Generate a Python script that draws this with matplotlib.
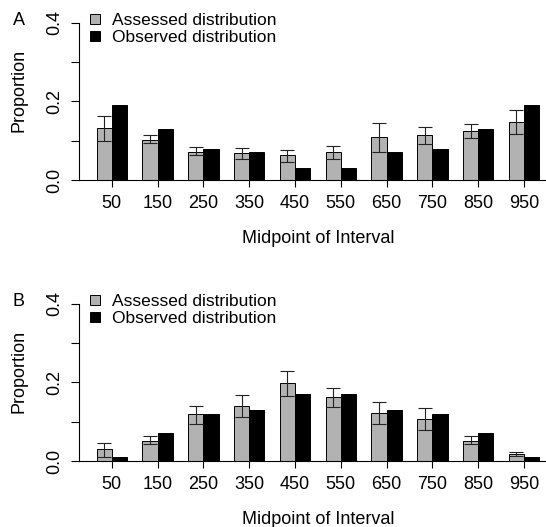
import numpy as np
import matplotlib
matplotlib.use("Agg")
from matplotlib import pyplot as plt
from matplotlib.lines import Line2D

plt.rcParams["font.family"] = ["Liberation Sans", "DejaVu Sans"]

# interval midpoints
mids = [50, 150, 250, 350, 450, 550, 650, 750, 850, 950]

# panel A
a_assessed = [0.133, 0.103, 0.072, 0.068, 0.063, 0.070, 0.110, 0.114, 0.125, 0.147]
a_lo = [0.099, 0.093, 0.063, 0.054, 0.047, 0.053, 0.072, 0.091, 0.107, 0.116]
a_hi = [0.164, 0.114, 0.083, 0.082, 0.076, 0.087, 0.146, 0.136, 0.143, 0.177]
a_observed = [0.19, 0.13, 0.08, 0.07, 0.03, 0.03, 0.07, 0.08, 0.13, 0.19]

# panel B
b_assessed = [0.030, 0.052, 0.119, 0.141, 0.199, 0.162, 0.122, 0.107, 0.052, 0.019]
b_lo = [0.011, 0.044, 0.095, 0.112, 0.166, 0.138, 0.095, 0.079, 0.043, 0.014]
b_hi = [0.047, 0.064, 0.141, 0.169, 0.229, 0.186, 0.149, 0.136, 0.063, 0.024]
b_observed = [0.01, 0.07, 0.12, 0.13, 0.17, 0.17, 0.13, 0.12, 0.07, 0.01]

legend_labels = ["Assessed distribution", "Observed distribution"]
gray = "#b2b2b2"
W, H = 546, 527

fig = plt.figure(figsize=(W / 100, H / 100), dpi=100)


def panel(bottom_px, letter, assessed, lo, hi, observed):
    ax = fig.add_axes([78.8 / W, (H - bottom_px) / H, 478.2 / W, 169.8 / H])
    grp = np.arange(len(mids))
    gx = 3 * grp + 1.5
    bx = 3 * grp + 2.5
    assessed = np.array(assessed)
    yerr = [assessed - np.array(lo), np.array(hi) - assessed]
    ax.bar(gx, assessed, width=1, color=gray, edgecolor="black", linewidth=0.7, zorder=2)
    ax.bar(bx, observed, width=1, color="black", edgecolor="black", linewidth=0.7, zorder=2)
    ax.errorbar(gx, assessed, yerr=yerr, fmt="none", ecolor="#222222",
                elinewidth=0.8, capsize=5.3, capthick=0.8, zorder=3)
    ax.set_xlim(-0.16, 31.16)
    ax.set_ylim(-0.016, 0.416)
    for s in ["top", "right"]:
        ax.spines[s].set_visible(False)
    ax.spines["left"].set_bounds(0, 0.4)
    ax.spines["bottom"].set_position(("data", 0))
    for s in ["left", "bottom"]:
        ax.spines[s].set_linewidth(0.8)
    ax.set_xticks(3 * grp + 2)
    ax.set_xticklabels([str(m) for m in mids])
    ax.set_yticks([0, 0.1, 0.2, 0.3, 0.4])
    ax.set_yticklabels(["0.0", "", "0.2", "", "0.4"], rotation=90, va="center")
    ax.tick_params(axis="x", length=5, width=0.8, pad=6, labelsize=13)
    ax.tick_params(axis="y", length=5.5, width=0.8, pad=6, labelsize=13)
    ax.set_xlabel("Midpoint of Interval", fontsize=13, labelpad=13)
    top = bottom_px - 169.8
    fig.text(19 / W, 1 - (top + 4) / H, letter, fontsize=13, ha="center", va="center")
    fig.text(19 / W, 1 - (top + 73.5) / H, "Proportion", fontsize=13, rotation=90,
             ha="center", va="center")
    handles = [
        Line2D([], [], marker="s", ls="", mfc=gray, mec="black", ms=7, mew=0.7),
        Line2D([], [], marker="s", ls="", mfc="black", mec="black", ms=7, mew=0.7),
    ]
    ax.legend(handles, legend_labels, loc="upper left", frameon=False,
              bbox_to_anchor=(88 / W, 1 - (top - 4) / H), bbox_transform=fig.transFigure,
              fontsize=12.5, handlelength=0.8, handletextpad=0.6, labelspacing=0.12,
              borderpad=0, borderaxespad=0)
    return ax


panel(186.3, "A", a_assessed, a_lo, a_hi, a_observed)
panel(467.3, "B", b_assessed, b_lo, b_hi, b_observed)

fig.savefig("out.png", dpi=100)
